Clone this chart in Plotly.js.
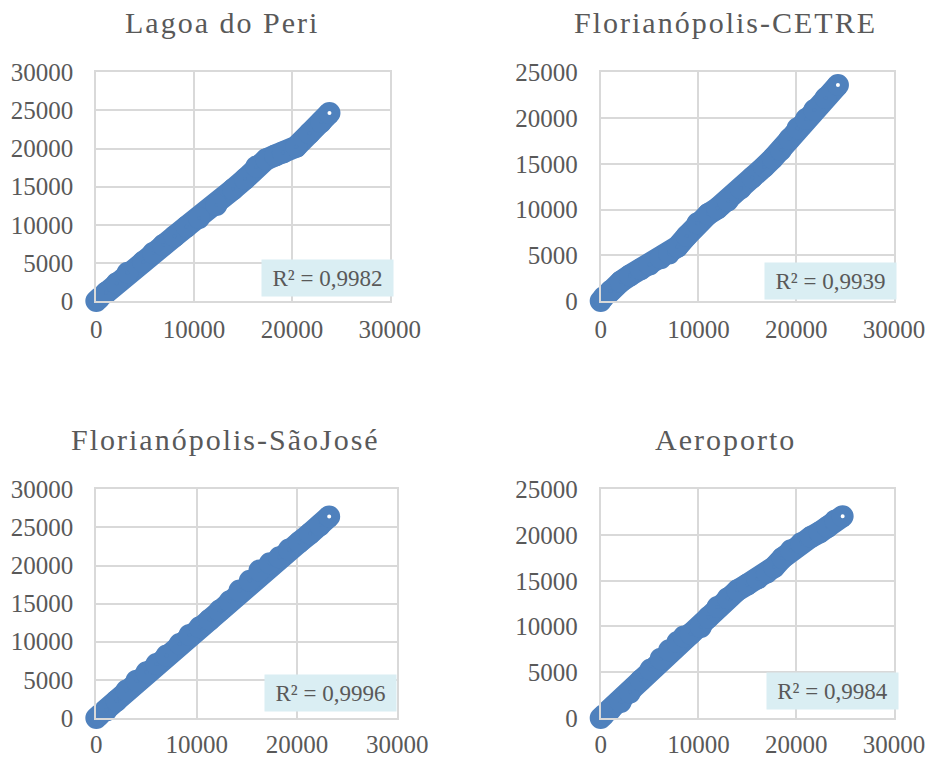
<!DOCTYPE html>
<html>
<head>
<meta charset="utf-8">
<script src="https://cdn.plot.ly/plotly-3.0.1.min.js"></script>
<style>
  html, body { margin: 0; padding: 0; background: #ffffff; }
  #chart { width: 928px; height: 758px; }
  /* panel titles are spaced out a little */
  .annotation[data-index="0"] text,
  .annotation[data-index="1"] text,
  .annotation[data-index="2"] text,
  .annotation[data-index="3"] text { letter-spacing: 2px; }
</style>
</head>
<body>
<div id="chart"></div>
<script>
// ---- data ----
const panelTitles = ['Lagoa do Peri', 'Florianópolis-CETRE', 'Florianópolis-SãoJosé', 'Aeroporto'];
const r2Labels = ['R² = 0,9982', 'R² = 0,9939', 'R² = 0,9996', 'R² = 0,9984'];

const lagoaX = [0, 300, 1000, 2075, 3200, 4796, 5800, 6837, 8000, 9218, 10500, 12279, 13980, 15200, 16361, 17381, 18300, 19082, 20442, 21803, 23000, 23844];
const lagoaY = [0, 350, 1100, 2320, 3700, 5160, 6300, 7350, 8500, 9750, 10900, 12600, 14650, 16000, 17630, 18590, 19100, 19470, 20250, 22000, 23500, 24650];

const cetreX = [0, 300, 1000, 2048, 3000, 4096, 5000, 6143, 7000, 7850, 8800, 9898, 11000, 11945, 13000, 14334, 15500, 16724, 17600, 18430, 19300, 20137, 21000, 21843, 23000, 24264];
const cetreY = [0, 400, 1100, 2114, 2800, 3462, 4000, 4664, 5200, 5940, 7100, 8490, 9500, 10130, 11000, 12317, 13500, 14685, 15600, 16507, 17700, 18876, 19900, 20880, 22200, 23611];

const saoJoseX = [0, 300, 1000, 2020, 3000, 4007, 5000, 5993, 7000, 8311, 9300, 10298, 11300, 12285, 13300, 14272, 15300, 16258, 17300, 18245, 19200, 20232, 21300, 22300, 23212];
const saoJoseY = [0, 350, 1000, 2275, 3600, 4899, 6000, 7086, 8200, 9710, 10900, 11897, 12900, 14084, 15300, 16709, 18000, 19333, 20300, 21083, 22100, 23051, 24200, 25300, 26419];

const aeroportoX = [0, 300, 1000, 2048, 3000, 4096, 5100, 6143, 7000, 7850, 8500, 9215, 10239, 11000, 11945, 13000, 13993, 15000, 16041, 17000, 17747, 18600, 19454, 20500, 21502, 22400, 23208, 24000, 24744];
const aeroportoY = [0, 300, 900, 1749, 2800, 4118, 5300, 6486, 7400, 8308, 8900, 9219, 9948, 11000, 12135, 13100, 13957, 14600, 15232, 15900, 16507, 17500, 18329, 19100, 19787, 20300, 20880, 21600, 22046];

const yMax = [30000, 25000, 30000, 25000];
const xMax = [30000, 30000, 30000, 30000];

// ---- styling ----
const BLUE = '#4F81BD';
const GRID = '#D9D9D9';
const TEXT = '#595959';
const FONT = '"Liberation Serif", "Times New Roman", serif';

const series = [[lagoaX, lagoaY], [cetreX, cetreY], [saoJoseX, saoJoseY], [aeroportoX, aeroportoY]];

// plot-area placement of each panel in paper coordinates
const xDomains = [[0.1038, 0.4199], [0.6473, 0.9634], [0.1038, 0.4281], [0.6473, 0.9634]];
const yDomains = [[0.6029, 0.9046], [0.6029, 0.9046], [0.0528, 0.3545], [0.0528, 0.3545]];
const titlePos = [[0.2392, 0.9697], [0.7820, 0.9697], [0.2430, 0.4203], [0.7823, 0.4203]];
const boxPos = [[0.3529, 0.6332], [0.8944, 0.6293], [0.3561, 0.0858], [0.8971, 0.0884]];
const xTickGap = [5, 5, 3, 3];

const traces = series.map(([xs, ys], i) => {
  const n = xs.length;
  return {
    x: xs, y: ys,
    type: 'scatter', mode: 'lines+markers',
    xaxis: i === 0 ? 'x' : 'x' + (i + 1),
    yaxis: i === 0 ? 'y' : 'y' + (i + 1),
    cliponaxis: false,
    line: { color: BLUE, width: 22 },
    marker: {
      symbol: 'circle', size: 13,
      color: xs.map((_, k) => (k === n - 1 ? '#ffffff' : BLUE)),
      line: { color: BLUE, width: 9 }
    },
    showlegend: false,
    hoverinfo: 'skip'
  };
});

function makeAxis(domain, range, dtick, anchor, ticklen) {
  return {
    domain: domain, range: range, dtick: dtick, tick0: 0, anchor: anchor,
    showgrid: true, gridcolor: GRID, gridwidth: 2,
    showline: true, mirror: true, linecolor: GRID, linewidth: 2,
    zeroline: false,
    ticks: 'outside', ticklen: ticklen, tickcolor: 'rgba(0,0,0,0)',
    tickformat: 'd',
    tickfont: { family: FONT, size: 25, color: TEXT },
    fixedrange: true
  };
}

const layout = {
  width: 928, height: 758,
  margin: { l: 0, r: 0, t: 0, b: 0 },
  paper_bgcolor: '#ffffff', plot_bgcolor: '#ffffff',
  showlegend: false,
  annotations: []
};

for (let i = 0; i < 4; i++) {
  const sx = i === 0 ? '' : String(i + 1);
  layout['xaxis' + sx] = makeAxis(xDomains[i], [0, xMax[i]], 10000, 'y' + sx, xTickGap[i]);
  layout['yaxis' + sx] = makeAxis(yDomains[i], [0, yMax[i]], 5000, 'x' + sx, 16);
}

panelTitles.forEach((t, i) => {
  layout.annotations.push({
    xref: 'paper', yref: 'paper', x: titlePos[i][0], y: titlePos[i][1],
    xanchor: 'center', yanchor: 'middle', showarrow: false,
    text: t, font: { family: FONT, size: 30, color: TEXT }
  });
});

r2Labels.forEach((t, i) => {
  layout.annotations.push({
    xref: 'paper', yref: 'paper', x: boxPos[i][0], y: boxPos[i][1],
    xanchor: 'center', yanchor: 'middle', showarrow: false,
    text: t, bgcolor: '#DAEEF3', width: 129, height: 34, borderpad: 1,
    font: { family: FONT, size: 23, color: TEXT }
  });
});

Plotly.newPlot('chart', traces, layout, { staticPlot: true, displayModeBar: false });
</script>
</body>
</html>
